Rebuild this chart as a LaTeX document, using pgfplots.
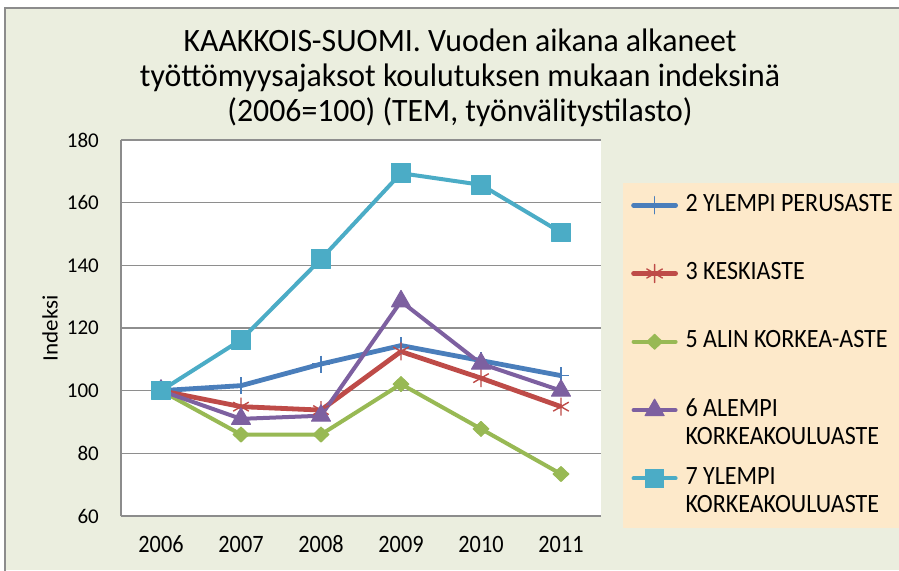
\documentclass[border=0pt]{standalone}
\usepackage{fontspec}
\setmainfont{Carlito}
\newfontfamily\titlefont{Carlito}[FakeStretch=0.975]
\newfontfamily\xtickfont{Carlito}[FakeStretch=0.89]
\newfontfamily\legfont{Carlito}[FakeStretch=0.91]
\newfontfamily\ylabfont{Carlito}[FakeStretch=1.05]
\usepackage{pgfplots}
\pgfplotsset{compat=1.18}
\definecolor{bgc}{HTML}{EBEEDF}
\definecolor{peach}{HTML}{FDE9CA}
\definecolor{framec}{HTML}{8C8C8C}
\definecolor{gridc}{HTML}{8E8E8E}
\definecolor{sblue}{HTML}{4A7EBB}
\definecolor{sred}{HTML}{BE4B48}
\definecolor{sgreen}{HTML}{98B954}
\definecolor{spurple}{HTML}{7D60A0}
\definecolor{scyan}{HTML}{4BACC6}
\begin{document}
\begin{tikzpicture}[x=1pt,y=1pt]
\useasboundingbox (0,0) rectangle (899,570);
\fill[white] (0,0) rectangle (899,570);
\fill[bgc] (5,0) rectangle (899,562);
\draw[framec, line width=1.5pt] (5,-2) -- (5,562) -- (901,562);
\fill[peach] (623,42) rectangle (899,387);
\node[anchor=base, align=center, inner sep=0pt, font=\titlefont\fontsize{32.6}{35}\selectfont] at (460pt,448pt) {KAAKKOIS-SUOMI. Vuoden aikana alkaneet\\työttömyysajaksot koulutuksen mukaan indeksinä\\(2006=100) (TEM, työnvälitystilasto)};
\begin{axis}[
  at={(121pt,54pt)}, anchor=south west,
  scale only axis, width=480pt, height=376pt,
  xmin=-0.5, xmax=5.5, ymin=60, ymax=180,
  xtick={0,1,2,3,4,5}, xticklabels={2006,2007,2008,2009,2010,2011},
  ytick={60,80,100,120,140,160,180},
  axis x line*=bottom, axis y line*=left,
  axis line style={framec, line width=1.5pt, -},
  ymajorgrids, grid style={gridc, line width=1.3pt},
  major tick length=0pt,
  axis background/.style={fill=white},
  /pgf/number format/assume math mode=true,
  yticklabel style={font=\fontsize{21}{24}\selectfont, xshift=-22pt, anchor=east, inner sep=0pt},
  xticklabel style={font=\xtickfont\fontsize{25}{28}\selectfont, yshift=-36pt, anchor=base, inner sep=0pt},
  ylabel={Indeksi},
  ylabel style={font=\ylabfont\fontsize{22}{26}\selectfont, at={(axis description cs:-0.148,0.5)}, anchor=center, rotate=0},
  legend style={at={(axis description cs:1.0625,0.8644)}, anchor=north west, draw=none, fill=none, inner sep=0pt,
     font=\legfont\fontsize{26.4}{28}\selectfont, row sep=0pt, column sep=7.5pt,
     cells={anchor=base west},
     nodes={inner sep=0pt, text height=20pt, text depth=48.3pt}},
  every axis plot/.append style={line join=round},
  legend image code/.code={\draw[mark repeat=2,mark phase=2,line cap=round,yshift=6pt,#1] plot coordinates {(0pt,0pt)(21pt,0pt)(42pt,0pt)};},
]
\addplot[sblue, line width=4.8pt, mark=+, mark size=8.5pt, mark options={line width=1.6pt}] coordinates {(0,100)(1,101.6)(2,108.5)(3,114.4)(4,109.6)(5,104.8)};
\addlegendentry{2 YLEMPI PERUSASTE}
\addplot[sred, line width=4.8pt, mark=asterisk, mark size=9pt, mark options={line width=1.4pt}] coordinates {(0,100)(1,94.9)(2,93.8)(3,112.5)(4,104)(5,94.9)};
\addlegendentry{3 KESKIASTE}
\addplot[sgreen, line width=4pt, mark=diamond*, mark size=7.5pt, mark options={line width=1pt, xscale=1.4}] coordinates {(0,100)(1,86)(2,86)(3,102.1)(4,87.8)(5,73.4)};
\addlegendentry{5 ALIN KORKEA-ASTE}
\addplot[spurple, line width=4pt, mark=triangle*, mark size=11pt, mark options={line width=1pt}] coordinates {(0,100)(1,91)(2,92)(3,128.5)(4,108.6)(5,100)};
\addlegendentry{\vtop{\hbox{6 ALEMPI}\hbox{KORKEAKOULUASTE}}}
\addplot[scyan, line width=4pt, mark=square*, mark size=9.3pt, mark options={line width=1pt}] coordinates {(0,100)(1,116.2)(2,142)(3,169.4)(4,165.7)(5,150.5)};
\addlegendentry{\vtop{\hbox{7 YLEMPI}\hbox{KORKEAKOULUASTE}}}
\end{axis}
\end{tikzpicture}
\end{document}
